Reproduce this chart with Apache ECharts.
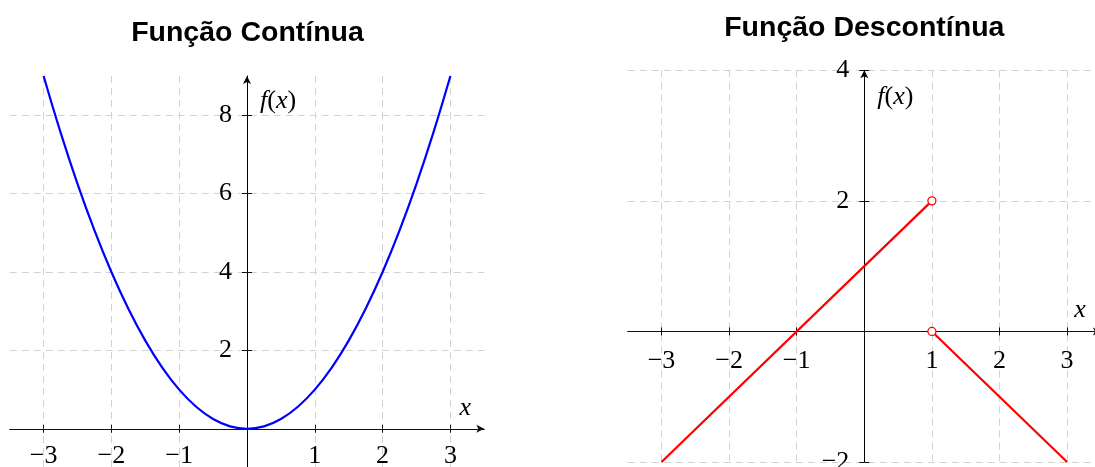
<!DOCTYPE html>
<html>
<head>
<meta charset="utf-8">
<script src="https://cdn.jsdelivr.net/npm/echarts@6/dist/echarts.min.js"></script>
<style>
html,body{margin:0;padding:0;background:#fff;}
#c{width:1095px;height:467px;}
</style>
</head>
<body>
<div id="c"></div>
<script>
// ---- data ----
const titles = ['Função Contínua', 'Função Descontínua'];
// continuous: parabola
const contX = [-3,-2.75,-2.5,-2.25,-2,-1.75,-1.5,-1.25,-1,-0.75,-0.5,-0.25,0,0.25,0.5,0.75,1,1.25,1.5,1.75,2,2.25,2.5,2.75,3];
const contY = [9,7.5625,6.25,5.0625,4,3.0625,2.25,1.5625,1,0.5625,0.25,0.0625,0,0.0625,0.25,0.5625,1,1.5625,2.25,3.0625,4,5.0625,6.25,7.5625,9];
// discontinuous: two line pieces + open circles
const seg1X = [-3, 1];
const seg1Y = [-2, 2];
const seg2X = [1, 3];
const seg2Y = [0, -2];
const openX = [1, 1];
const openY = [2, 0];
// ticks / labels
const xTicks = [-3,-2,-1,0,1,2,3];
const xLabels = [-3,-2,-1,1,2,3];
const yTicksL = [0,2,4,6,8];
const yLabelsL = [2,4,6,8];
const yTicksR = [-2,0,2,4];
const yLabelsR = [-2,2,4];
// axis ranges
const xRange = [-3.5, 3.5];
const yRangeL = [-1, 9];
const yRangeR = [-2, 4];

const pts = (xs, ys) => xs.map((x, i) => [x, ys[i]]);
const fmt = v => (v < 0 ? '\u2212' + Math.abs(v) : String(v));

const SERIF = 'Liberation Serif, Times New Roman, serif';
const FS = 26;
const gridLine = {show: true, lineStyle: {color: '#d2d2d2', width: 1, type: [7, 5]}};

const grids = [
  {left: 9.7, top: 76, width: 474.6, height: 392},
  {left: 627.7, top: 70.3, width: 473.2, height: 391.7}
];
// offsets that move the axes from the grid edge to the zero lines
function xOff(g, yr) { return -g.height * (0 - yr[0]) / (yr[1] - yr[0]); }
function yOff(g, xr) { return -g.width * (0 - xr[0]) / (xr[1] - xr[0]); }

function mainX(gi, yr, nameGap, labelMargin) {
  return {
    type: 'value', gridIndex: gi, min: xRange[0], max: xRange[1], position: 'bottom',
    offset: xOff(grids[gi], yr),
    axisLine: {show: true, onZero: false, symbol: ['none', 'arrow'], symbolSize: [6, 8],
      lineStyle: {color: '#111', width: 1}},
    axisTick: {show: true, inside: false, length: 4, customValues: xTicks, lineStyle: {color: '#111'}},
    axisLabel: {show: true, customValues: xLabels, formatter: fmt, margin: labelMargin,
      fontFamily: SERIF, fontSize: FS, color: '#000'},
    splitLine: Object.assign({}, gridLine),
    name: 'x', nameLocation: 'end', nameGap: nameGap,
    nameTextStyle: {fontFamily: SERIF, fontStyle: 'italic', fontSize: FS, color: '#000',
      align: 'center', verticalAlign: 'bottom', lineHeight: 42}
  };
}
function tickX(gi, yr) {
  return {
    type: 'value', gridIndex: gi, min: xRange[0], max: xRange[1], position: 'bottom',
    offset: xOff(grids[gi], yr),
    axisLine: {show: false, onZero: false},
    axisTick: {show: true, inside: true, length: 4, customValues: xTicks, lineStyle: {color: '#111'}},
    axisLabel: {show: false}, splitLine: {show: false}
  };
}
function mainY(gi, yr, ticks, labels, nameGap) {
  return {
    type: 'value', gridIndex: gi, min: yr[0], max: yr[1], position: 'left',
    offset: yOff(grids[gi], xRange),
    axisLine: {show: true, onZero: false, symbol: ['none', 'arrow'], symbolSize: [6, 8],
      lineStyle: {color: '#000', width: 1}},
    axisTick: {show: true, inside: false, length: 5, customValues: ticks, lineStyle: {color: '#111'}},
    axisLabel: {show: true, customValues: labels, formatter: fmt, margin: 15,
      fontFamily: SERIF, fontSize: FS, color: '#000'},
    splitLine: Object.assign({}, gridLine),
    name: '{i|f}({i|x})', nameLocation: 'end', nameGap: nameGap,
    nameTextStyle: {fontFamily: SERIF, fontSize: FS, color: '#000', align: 'left', verticalAlign: 'middle',
      padding: [0, 0, 0, 13],
      rich: {i: {fontFamily: SERIF, fontStyle: 'italic', fontSize: FS, color: '#000'}}}
  };
}
function tickY(gi, yr, ticks) {
  return {
    type: 'value', gridIndex: gi, min: yr[0], max: yr[1], position: 'left',
    offset: yOff(grids[gi], xRange),
    axisLine: {show: false, onZero: false},
    axisTick: {show: true, inside: true, length: 5, customValues: ticks, lineStyle: {color: '#111'}},
    axisLabel: {show: false}, splitLine: {show: false}
  };
}

const titleStyle = {fontFamily: 'Liberation Sans, Arial, sans-serif', fontWeight: 'bold', fontSize: 28.5, color: '#000'};
const chart = echarts.init(document.getElementById('c'), null, {renderer: 'canvas'});
chart.setOption({
  backgroundColor: '#fff',
  animation: false,
  title: [
    {text: titles[0], left: 247.5, top: 19, textAlign: 'center', padding: 0, textStyle: titleStyle},
    {text: titles[1], left: 864.3, top: 14, textAlign: 'center', padding: 0, textStyle: titleStyle}
  ],
  grid: grids.map(g => Object.assign({containLabel: false, outerBoundsMode: 'none'}, g)),
  xAxis: [
    mainX(0, yRangeL, -19, 14),
    tickX(0, yRangeL),
    mainX(1, yRangeR, -21, 17),
    tickX(1, yRangeR)
  ],
  yAxis: [
    mainY(0, yRangeL, yTicksL, yLabelsL, -25),
    tickY(0, yRangeL, yTicksL),
    mainY(1, yRangeR, yTicksR, yLabelsR, -27),
    tickY(1, yRangeR, yTicksR)
  ],
  series: [
    {type: 'line', xAxisIndex: 0, yAxisIndex: 0, data: pts(contX, contY), smooth: 0.4, showSymbol: false,
      lineStyle: {color: '#0000ff', width: 2.2}, z: 5},
    {type: 'line', xAxisIndex: 2, yAxisIndex: 2, data: pts(seg1X, seg1Y), showSymbol: false,
      lineStyle: {color: '#ff0000', width: 2.2}, z: 5},
    {type: 'line', xAxisIndex: 2, yAxisIndex: 2, data: pts(seg2X, seg2Y), showSymbol: false,
      lineStyle: {color: '#ff0000', width: 2.2}, z: 5},
    {type: 'scatter', xAxisIndex: 2, yAxisIndex: 2, data: pts(openX, openY), symbol: 'circle', symbolSize: 8,
      itemStyle: {color: '#fff', borderColor: '#ff0000', borderWidth: 1.3, opacity: 1}, z: 6}
  ]
});
</script>
</body>
</html>
